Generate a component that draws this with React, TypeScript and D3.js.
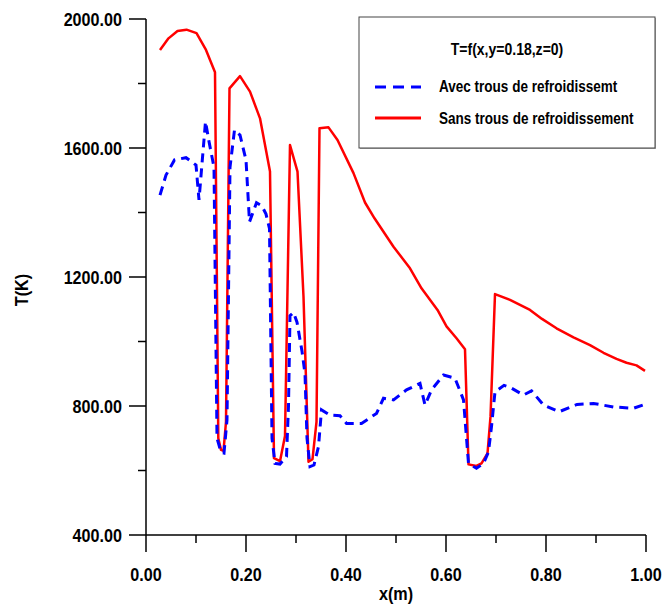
import React from 'react';
import * as d3 from 'd3';

// x (m) and T (K)
const sansX = [0.028, 0.045, 0.063, 0.081, 0.101, 0.12, 0.138, 0.1446, 0.15, 0.155, 0.16, 0.167, 0.188, 0.208, 0.228, 0.248, 0.256, 0.268, 0.278, 0.288, 0.303, 0.315, 0.325, 0.333, 0.341, 0.347, 0.365, 0.383, 0.415, 0.438, 0.457, 0.495, 0.528, 0.551, 0.583, 0.601, 0.621, 0.638, 0.645, 0.661, 0.671, 0.683, 0.689, 0.698, 0.728, 0.768, 0.792, 0.821, 0.855, 0.888, 0.915, 0.941, 0.961, 0.981, 0.998];
const sansT = [1904, 1940, 1963, 1967, 1956, 1904, 1835, 700, 664, 661, 751, 1785, 1823, 1775, 1692, 1527, 638, 629, 707, 1609, 1527, 1139, 627, 635, 751, 1661, 1664, 1625, 1522, 1431, 1382, 1294, 1227, 1165, 1098, 1047, 1010, 976, 619, 614, 622, 653, 767, 1147, 1129, 1098, 1070, 1041, 1013, 989, 965, 946, 934, 926, 909];

const avecX = [0.028, 0.04, 0.057, 0.08, 0.1, 0.106, 0.119, 0.126, 0.136, 0.142, 0.15, 0.156, 0.162, 0.168, 0.177, 0.188, 0.2, 0.207, 0.221, 0.232, 0.24, 0.247, 0.252, 0.258, 0.268, 0.281, 0.285, 0.288, 0.295, 0.302, 0.312, 0.318, 0.322, 0.328, 0.336, 0.345, 0.351, 0.368, 0.388, 0.401, 0.431, 0.461, 0.475, 0.495, 0.521, 0.548, 0.558, 0.571, 0.595, 0.618, 0.635, 0.645, 0.661, 0.675, 0.685, 0.691, 0.698, 0.716, 0.728, 0.755, 0.771, 0.795, 0.826, 0.862, 0.895, 0.935, 0.975, 0.998];
const avecT = [1454, 1516, 1563, 1570, 1547, 1439, 1682, 1620, 1540, 700, 657, 654, 757, 1540, 1656, 1640, 1563, 1371, 1430, 1420, 1395, 1350, 700, 622, 620, 643, 800, 1080, 1090, 1060, 970, 900, 700, 612, 617, 674, 788, 772, 770, 746, 746, 777, 824, 819, 850, 870, 803, 850, 896, 886, 819, 622, 607, 622, 658, 736, 844, 864, 858, 834, 847, 803, 782, 805, 808, 797, 793, 805];

const yMajor = [400, 800, 1200, 1600, 2000];
const yMinor = [600, 1000, 1400, 1800];
const xMajor = [0, 0.2, 0.4, 0.6, 0.8, 1.0];
const xMinor = [0.1, 0.3, 0.5, 0.7, 0.9];

const legendTitle = 'T=f(x,y=0.18,z=0)';
const seriesNames = ['Avec trous de refroidissemt', 'Sans trous de refroidissement'];

const FONT = "'Liberation Sans', Arial, sans-serif";

// narrow-ish bold text: the original font is condensed, so squeeze horizontally
function NText({ x, y, size, sx = 0.83, anchor = 'start', dy, children }: any) {
  return (
    <text
      transform={`translate(${x},${y}) scale(${sx},1)`}
      textAnchor={anchor}
      fontSize={size}
      dy={dy}
    >
      {children}
    </text>
  );
}

export default function App() {
  const x = d3.scaleLinear().domain([0, 1]).range([146, 646]);
  const y = d3.scaleLinear().domain([400, 2000]).range([535, 19]);

  const line = d3
    .line<[number, number]>()
    .x((d) => x(d[0]))
    .y((d) => y(d[1]));

  const sans = sansX.map((v, i) => [v, sansT[i]] as [number, number]);
  const avec = avecX.map((v, i) => [v, avecT[i]] as [number, number]);
  const fmt = d3.format('.2f');

  return (
    <svg
      width={663}
      height={605}
      style={{ position: 'absolute', left: 0, top: 0, background: '#fff' }}
      fontFamily={FONT}
      fontWeight="bold"
    >
      {/* axes */}
      <line x1={x(0)} x2={x(0)} y1={y(2000)} y2={y(400)} stroke="#000" strokeWidth={1.5} />
      <line x1={x(0)} x2={x(1)} y1={y(400)} y2={y(400)} stroke="#000" strokeWidth={1.5} />

      {yMajor.map((t) => (
        <g key={'ym' + t}>
          <line x1={x(0) - 17} x2={x(0)} y1={y(t)} y2={y(t)} stroke="#000" strokeWidth={1.5} />
          <NText x={x(0) - 24} y={y(t)} dy="0.36em" anchor="end" size={19} sx={0.85}>
            {fmt(t)}
          </NText>
        </g>
      ))}
      {yMinor.map((t) => (
        <line key={'yn' + t} x1={x(0) - 8} x2={x(0)} y1={y(t)} y2={y(t)} stroke="#000" strokeWidth={1.5} />
      ))}
      {xMajor.map((t) => (
        <g key={'xm' + t}>
          <line x1={x(t)} x2={x(t)} y1={y(400)} y2={y(400) + 17} stroke="#000" strokeWidth={1.5} />
          <NText x={x(t)} y={y(400) + 46} anchor="middle" size={19} sx={0.85}>
            {fmt(t)}
          </NText>
        </g>
      ))}
      {xMinor.map((t) => (
        <line key={'xn' + t} x1={x(t)} x2={x(t)} y1={y(400)} y2={y(400) + 8} stroke="#000" strokeWidth={1.5} />
      ))}

      <NText x={396} y={600} anchor="middle" size={18} sx={0.9}>
        x(m)
      </NText>
      <text transform="translate(28,290) rotate(-90) scale(0.9,1)" textAnchor="middle" fontSize={18}>
        T(K)
      </text>

      {/* curves */}
      <path d={line(sans) ?? ''} fill="none" stroke="#ff0000" strokeWidth={2.5} strokeLinejoin="round" />
      <path d={line(avec) ?? ''} fill="none" stroke="#0000ff" strokeWidth={3} strokeDasharray="9,6" />

      {/* legend */}
      <rect x={360} y={18} width={296} height={131} fill="#aaa" />
      <rect x={359} y={17} width={296} height={131} fill="#fff" stroke="#444" strokeWidth={1} />
      <NText x={507} y={55} anchor="middle" size={16.5} sx={0.85}>
        {legendTitle}
      </NText>
      <line x1={375} x2={421} y1={87} y2={87} stroke="#0000ff" strokeWidth={3} strokeDasharray="11,7" />
      <NText x={439} y={92} size={16.5} sx={0.82}>
        {seriesNames[0]}
      </NText>
      <line x1={375} x2={421} y1={118} y2={118} stroke="#ff0000" strokeWidth={3} />
      <NText x={439} y={124} size={16.5} sx={0.82}>
        {seriesNames[1]}
      </NText>
    </svg>
  );
}
